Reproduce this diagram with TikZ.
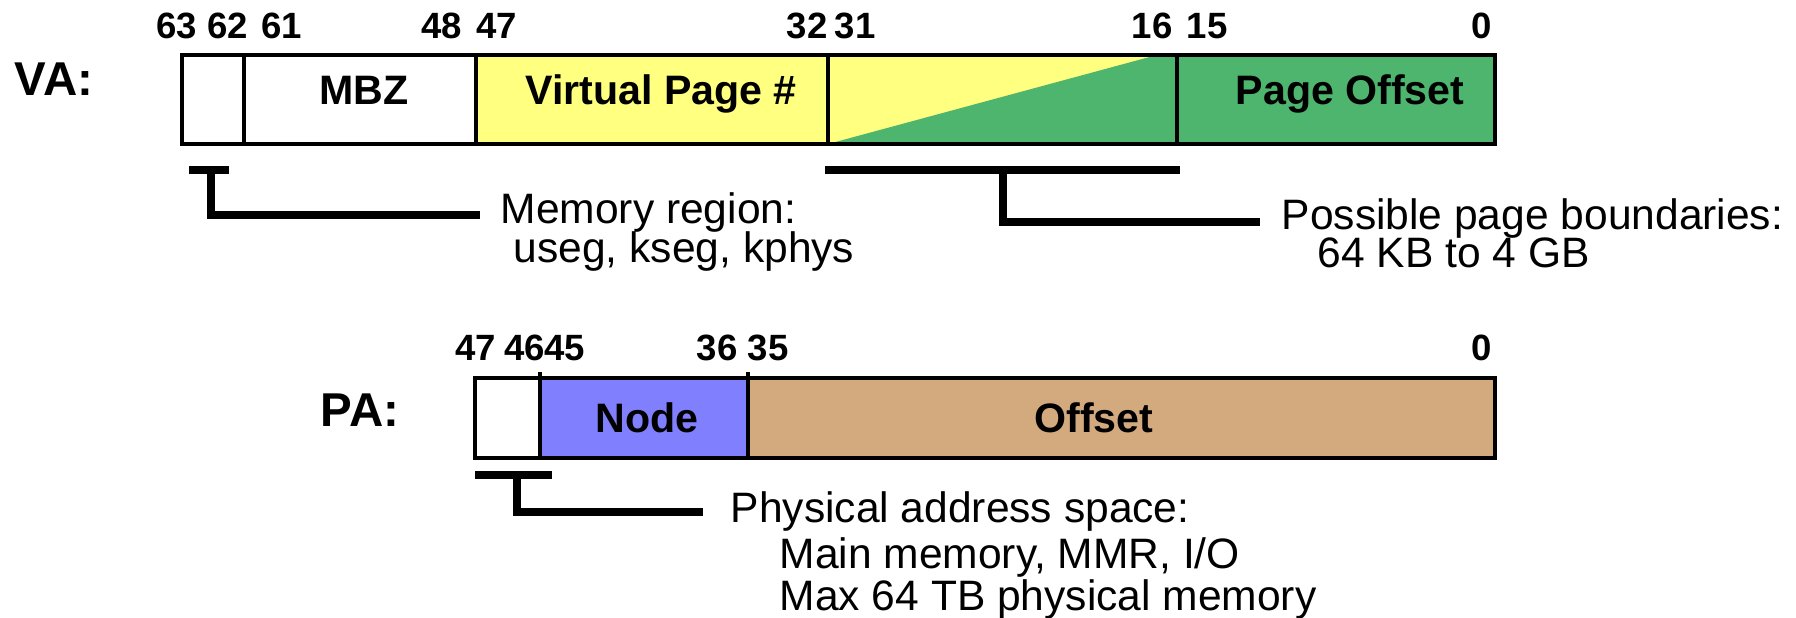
\documentclass[tikz,border=0pt]{standalone}
\usepackage{fontspec}
\setmainfont{Liberation Sans}
\definecolor{vpnyellow}{RGB}{255,255,128}
\definecolor{offgreen}{RGB}{78,181,110}
\definecolor{nodeblue}{RGB}{128,128,255}
\definecolor{offtan}{RGB}{210,170,126}
\begin{document}
\begin{tikzpicture}[x=0.01cm,y=-0.01cm]
  \tikzset{
    frame/.style={line width=0.04cm},
    divider/.style={line width=0.035cm},
    brk/.style={line width=0.08cm},
    bitlbl/.style={font=\fontsize{10.4}{12}\selectfont\bfseries,anchor=base,inner sep=0},
    fldlbl/.style={font=\fontsize{11.7}{13}\selectfont\bfseries,anchor=base,inner sep=0},
    reglbl/.style={font=\fontsize{13.5}{15}\selectfont\bfseries,anchor=base,inner sep=0},
    note/.style={font=\fontsize{12.1}{13}\selectfont,anchor=base west,inner sep=0}
  }
  \useasboundingbox (0,0) rectangle (1796,618);

  % virtual address
  \node[reglbl] (va) at (54,95) {VA:};
  \fill[vpnyellow] (476,55) rectangle (1177,144);
  \fill[offgreen] (828,144) -- (1157,55) -- (1495,55) -- (1495,144) -- cycle;
  \foreach \x in {244,476,828,1177}
    \draw[divider] (\x,55) -- (\x,144);
  \draw[frame] (182,55) rectangle (1495,144);
  \node[fldlbl] (mbz) at (364,104) {MBZ};
  \node[fldlbl] (vpn) at (661,104) {Virtual Page \#};
  \node[fldlbl] (pgoff) at (1350,104) {Page Offset};
  \foreach \b/\x in {63/177,62/228,61/282,48/442,47/497,32/807,31/855,16/1152,15/1207,0/1482}
    \node[bitlbl] (va\b) at (\x,38) {\b};

  % brackets under VA
  \coordinate (rgnL) at (189,170);
  \coordinate (rgnR) at (229,170);
  \coordinate (rgnM) at (211,170);
  \coordinate (rgnE) at (480,215);
  \draw[brk] (rgnL) -- (rgnR);
  \draw[brk] (rgnM) |- (rgnE);
  \node[note] (rgnA) at (500,223) {Memory region:};
  \node[note] (rgnB) at (513,262) {useg, kseg, kphys};

  \coordinate (pgL) at (825,170);
  \coordinate (pgR) at (1180,170);
  \coordinate (pgM) at (1003,170);
  \coordinate (pgE) at (1260,222);
  \draw[brk] (pgL) -- (pgR);
  \draw[brk] (pgM) |- (pgE);
  \node[note] (pgA) at (1281,229) {Possible page boundaries:};
  \node[note] (pgB) at (1317,267) {64 KB to 4 GB};

  % physical address
  \node[reglbl] (pa) at (360,426) {PA:};
  \fill[nodeblue] (540,378) rectangle (748,458);
  \fill[offtan] (748,378) rectangle (1495,458);
  \foreach \x in {540,748}
    \draw[divider] (\x,372) -- (\x,458);
  \draw[frame] (475,378) rectangle (1495,458);
  \node[fldlbl] (nodeid) at (647,432) {Node};
  \node[fldlbl] (paoff) at (1094,432) {Offset};
  \foreach \b/\x in {47/476,46/525,45/565,36/717,35/768,0/1482}
    \node[bitlbl] (pa\b) at (\x,360) {\b};

  % bracket under PA
  \coordinate (spcL) at (475,475);
  \coordinate (spcR) at (552,475);
  \coordinate (spcM) at (517,475);
  \coordinate (spcE) at (703,512);
  \draw[brk] (spcL) -- (spcR);
  \draw[brk] (spcM) |- (spcE);
  \node[note] (spcA) at (730,522) {Physical address space:};
  \node[note] (spcB) at (779,568) {Main memory, MMR, I/O};
  \node[note] (spcC) at (779,610) {Max 64 TB physical memory};
\end{tikzpicture}
\end{document}
